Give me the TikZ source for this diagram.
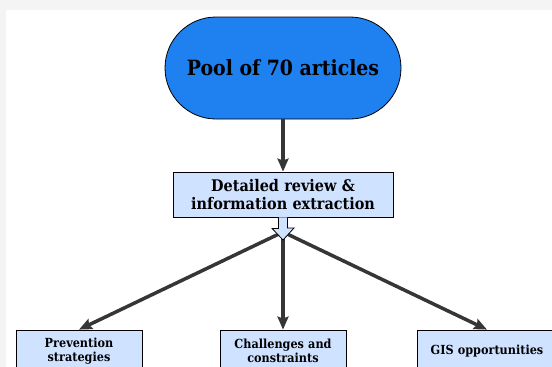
\documentclass[tikz,border=0pt]{standalone}
\usepackage{fontspec}
\setmainfont{DejaVu Serif Condensed}
\usepackage{tikz}
\usetikzlibrary{arrows.meta}
\definecolor{poolblue}{HTML}{1F80F0}
\definecolor{boxblue}{HTML}{CFE2FF}
\definecolor{arrowgray}{HTML}{363636}
\definecolor{pagegray}{HTML}{F4F4F4}
\tikzstyle{pool} = [rectangle, rounded corners=51pt, minimum width=236pt, minimum height=102pt, text centered, draw=black, line width=0.8pt, fill=poolblue, font=\fontsize{21}{25}\selectfont\bfseries]
\tikzstyle{review} = [rectangle, minimum width=220pt, minimum height=45pt, text width=214pt, align=center, inner sep=2pt, draw=black, line width=0.8pt, fill=boxblue, font=\fontsize{16}{18.5}\selectfont\bfseries]
\tikzstyle{outcome} = [rectangle, minimum width=126pt, minimum height=42pt, text width=122pt, align=center, inner sep=2pt, draw=black, line width=0.8pt, fill=boxblue, font=\fontsize{12.5}{14.5}\selectfont\bfseries]
\tikzstyle{arrow} = [line width=3.5pt, draw=arrowgray, -{Stealth[length=13pt, width=11pt, inset=2pt]}]
\begin{document}
\begin{tikzpicture}[x=1pt, y=-1pt, node distance=126.5pt]
		\useasboundingbox (0,0) rectangle (552,367);
		\clip (0,0) rectangle (552,367);
		\fill [pagegray] (0,0) rectangle (552,367);
		\fill [white] (6,10) rectangle (552,367);
		\node (pool) [pool] at (283,68) {Pool of 70 articles};
		\node (detail) [review, below of=pool]{Detailed review \&\\information extraction};
		\draw [arrow] (pool) -- (detail);
		\node (chal) [outcome, below of=detail, yshift=-30pt]{Challenges and\\constraints};
		\node (prev) [outcome, left of=chal, xshift=-77.5pt]{Prevention\\strategies};
		\node (gis) [outcome, right of=chal, xshift=77.5pt, minimum width=140pt, text width=136pt]{GIS opportunities};
		\coordinate (split) at (283,232);
		\draw [arrow] (split) -- (prev.north);
		\draw [arrow] (split) -- (chal.north);
		\draw [arrow] (split) -- (gis.north);
		% hollow arrow under the review box
		\draw [fill=boxblue, line width=0.8pt] ([xshift=-4.5pt]detail.south) -- ++(0,11) -- ++(-6.5,0) -- (283,240) -- (294,228) -- ++(-6.5,0) -- ([xshift=4.5pt]detail.south);
	\end{tikzpicture}
\end{document}
